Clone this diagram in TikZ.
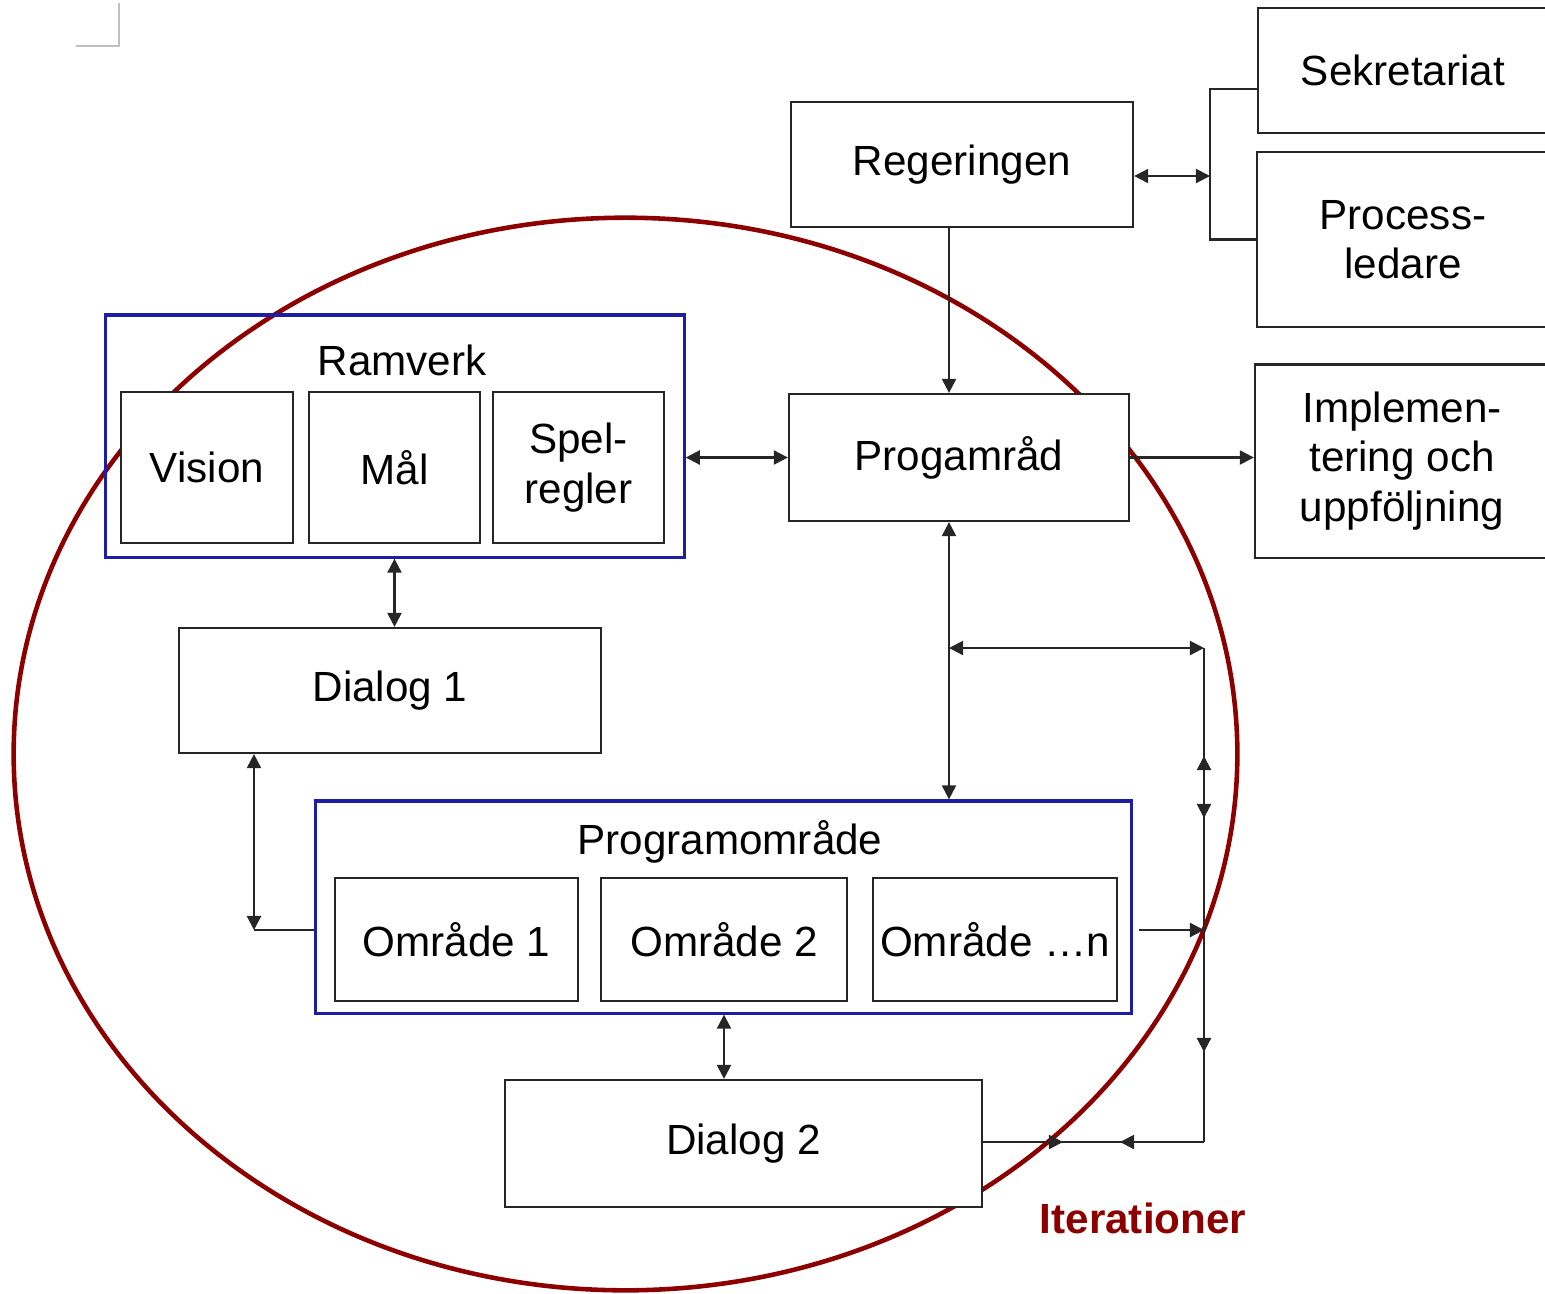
\documentclass[tikz,border=0pt]{standalone}
\usepackage{fontspec}
\setmainfont{Liberation Sans}
\usepackage{tikz}
\usetikzlibrary{arrows.meta}

\definecolor{ramblue}{RGB}{30,30,165}
\definecolor{iterred}{RGB}{140,0,0}

\tikzset{
  box/.style={draw=black!85, line width=0.6pt, fill=white, inner sep=1pt,
    align=center, font=\fontsize{12}{14}\selectfont},
  bluebox/.style={draw=ramblue, line width=0.9pt, inner sep=0pt},
  lbl/.style={font=\fontsize{12}{14}\selectfont},
  conn/.style={draw=black!85, line width=0.6pt},
}

\begin{document}
\begin{tikzpicture}[x=0.01cm,y=-0.01cm,>={Triangle[length=4pt,width=4pt]}]

\useasboundingbox (0,0) rectangle (1545,1293);
\clip (0,0) rectangle (1545,1293);

% corner mark
\draw[black!25, line width=0.6pt] (76,46) -- (119,46) -- (119,3);

% iterations
\draw[iterred, line width=1.3pt] (625.5,754) ellipse [x radius=6.115cm, y radius=5.36cm];
\node[font=\fontsize{12}{14}\selectfont\bfseries, text=iterred] (iter) at (1143,1218) {Iterationer};

% top right
\node[box, minimum width=3.42cm, minimum height=1.25cm] (reg) at (962,164.5) {Regeringen};
\node[box, minimum width=2.90cm, minimum height=1.25cm] (sek) at (1403,70.5) {Sekretariat};
\node[box, minimum width=2.92cm, minimum height=1.75cm] (proc) at (1403,239.5) {Process-\\ledare};
\node[box, minimum width=2.94cm, minimum height=1.93cm] (impl) at (1402,461) {Implemen-\\tering och\\uppföljning};
\node[box, minimum width=3.40cm, minimum height=1.27cm] (prog) at (959,457.5) {Progamråd};

% Ramverk
\node[bluebox, minimum width=5.78cm, minimum height=2.42cm] (ram) at (395,436) {};
\node[lbl] (ramlbl) at (402,360) {Ramverk};
\node[box, minimum width=1.72cm, minimum height=1.51cm] (vision) at (207,467.5) {Vision};
\node[box, minimum width=1.71cm, minimum height=1.51cm] (mal) at (394.5,467.5) {Mål};
\node[box, minimum width=1.71cm, minimum height=1.51cm] (spel) at (578.5,467.5) {Spel-\\regler};

\node[box, minimum width=4.22cm, minimum height=1.25cm] (dia1) at (390,690.5) {Dialog 1};

% Programomraade
\node[bluebox, minimum width=8.15cm, minimum height=2.12cm] (pomr) at (723.5,907) {};
\node[lbl] (pomrlbl) at (730,842) {Programområde};
\foreach \n/\x/\w/\t in {omra/456.5/2.43/Område 1, omrb/724/2.46/Område 2, omrc/995/2.44/Område …n} {
\node[box, minimum width=\w cm, minimum height=1.23cm] (\n) at (\x,939.5) {\t};
}

\node[box, minimum width=4.77cm, minimum height=1.27cm] (dia2) at (743.5,1143.5) {Dialog 2};

% helper points
\coordinate (spine) at (949,648);
\coordinate (brk) at (1210,176);
\coordinate (btop) at (1210,89);
\coordinate (bbot) at (1210,239.5);
\coordinate (d1c) at (254,930);
\coordinate (rt) at (1204,648);
\coordinate (rmid) at (1204,930);
\coordinate (rb) at (1204,1142);

% connectors
\draw[conn, <->] (reg.east |- brk) -- (brk);
\draw[conn] (sek.west |- btop) -- (btop) -- (bbot) -- (proc.west);
\draw[conn, ->] (reg.south -| spine) -- (prog.north -| spine);
\draw[conn, ->] (prog.east) -- (impl.west |- prog.east);
\draw[conn, <->] (ram.east |- prog.west) -- (prog.west);
\draw[conn, <->] (ram.south -| mal) -- (dia1.north -| mal);
\draw[conn, <->] (dia1.south -| d1c) -- (d1c);
\draw[conn] (d1c) -- (pomr.west |- d1c);
\draw[conn, <->] (pomr.south -| omrb) -- (dia2.north -| omrb);
\draw[conn, <->] (prog.south -| spine) -- (pomr.north -| spine);

% iteration loop
\draw[conn, <->] (spine) -- (rt);
\draw[conn] (rt) -- (rb);
\draw[conn, <->] (1204,756) -- (1204,818);
\draw[conn, ->] ([xshift=0.06cm]pomr.east |- rmid) -- (rmid);
\draw[conn, ->] (rmid) -- (1204,1052);
\draw[conn] (dia2.east |- rb) -- (rb);
\draw[conn, ->] (dia2.east |- rb) -- (1063,1142);
\draw[conn, ->] (rb) -- (1120,1142);

\end{tikzpicture}
\end{document}
